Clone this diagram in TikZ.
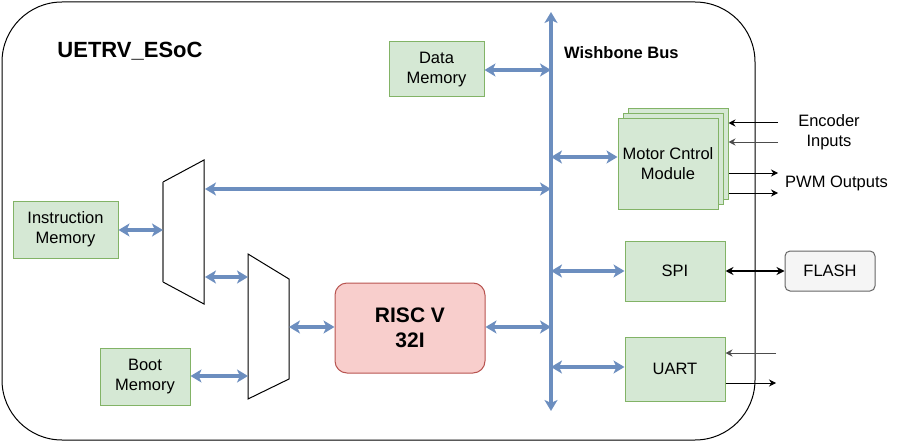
\documentclass[tikz,border=0pt]{standalone}
\usepackage{fontspec}
\setmainfont{Liberation Sans}
\usetikzlibrary{arrows.meta}
\definecolor{gfill}{HTML}{D5E8D4}
\definecolor{gdraw}{HTML}{82B366}
\definecolor{rfill}{HTML}{F8CECC}
\definecolor{rdraw}{HTML}{B85450}
\definecolor{busc}{HTML}{6C8EBF}
\definecolor{ffill}{HTML}{F5F5F5}
\definecolor{fdraw}{HTML}{666666}
\tikzset{
  gbox/.style={draw=gdraw,fill=gfill,line width=1pt,align=center,font=\fontsize{16.5}{20}\selectfont,inner sep=0pt},
  busarrow/.style={draw=busc,line width=3.5pt,{Stealth[length=11pt,width=13pt,inset=3pt]}-{Stealth[length=11pt,width=13pt,inset=3pt]}},
  thinarrow/.style={draw=black,line width=1pt,-{Stealth[length=7pt,width=7pt]}},
  lbl/.style={font=\fontsize{16.5}{20}\selectfont,align=center,inner sep=0pt},
}
\begin{document}
\begin{tikzpicture}[x=1pt,y=-1pt]
\useasboundingbox (0,0) rectangle (907,441);
% outer box
\draw[line width=1pt,rounded corners=60pt] (2,2) rectangle (755,440);
\node[font=\fontsize{22}{26}\selectfont\bfseries,anchor=center] (title) at (130,51) {UETRV\_ESoC};
% bus
\coordinate (bt) at (551,12);
\coordinate (bb) at (551,411);
\draw[busarrow] (bt) -- (bb);
\node[font=\fontsize{16.5}{20}\selectfont\bfseries,anchor=west,inner sep=0pt] (wb) at (564,53) {Wishbone Bus};
% data memory
\node[gbox,minimum width=95pt,minimum height=55pt] (dm) at (436.5,69.5) {Data\\Memory};
\coordinate (dmb) at (551,70);
\draw[busarrow] (dm.east |- dmb) -- (dmb);
% motor control stack
\node[gbox,minimum width=100pt,minimum height=90pt] (mc3) at (678,154) {};
\node[gbox,minimum width=100pt,minimum height=90pt] (mc2) at (673,159) {};
\node[gbox,minimum width=100pt,minimum height=90pt] (mc) at (668,164) {Motor Cntrol\\Module};
\coordinate (mcb) at (551,157);
\draw[busarrow] (mcb) -- (mc.west |- mcb);
\coordinate (e1) at (778,123);
\coordinate (e2) at (778,142);
\draw[thinarrow] (e1) -- (mc3.east |- e1);
\draw[thinarrow,draw=black!70] (e2) -- (mc3.east |- e2);
\node[lbl] (enc) at (829,132) {Encoder\\Inputs};
\coordinate (p1) at (778,173);
\coordinate (p2) at (778,193);
\draw[thinarrow] (mc3.east |- p1) -- (p1);
\draw[thinarrow] (mc3.east |- p2) -- (p2);
\node[lbl,anchor=west] (pwm) at (785,183) {PWM Outputs};
% SPI
\node[gbox,minimum width=100pt,minimum height=60pt] (spi) at (675,271) {SPI};
\node[draw=fdraw,fill=ffill,rounded corners=5pt,line width=1pt,minimum width=90pt,minimum height=40pt,font=\fontsize{16.5}{20}\selectfont] (flash) at (830,271) {FLASH};
\draw[busarrow] (551,271) coordinate (sb) -- (spi.west);
\draw[line width=1.5pt,{Stealth[length=8pt,width=8pt]}-{Stealth[length=8pt,width=8pt]}] (spi.east) -- (flash.west);
% UART
\node[gbox,minimum width=100pt,minimum height=64pt] (uart) at (675,369) {UART};
\coordinate (ub) at (551,367);
\draw[busarrow] (ub) -- (uart.west |- ub);
\coordinate (u1) at (776,353);
\coordinate (u2) at (776,383);
\draw[thinarrow,draw=black!70] (u1) -- (uart.east |- u1);
\draw[thinarrow] (uart.east |- u2) -- (u2);
% RISC V
\node[draw=rdraw,fill=rfill,rounded corners=12pt,line width=1pt,minimum width=150pt,minimum height=90pt,align=center,font=\fontsize{21}{25}\selectfont\bfseries] (risc) at (410,328) {RISC V\\32I};
\coordinate (rb) at (551,327);
\draw[busarrow] (risc.east |- rb) -- (rb);
% mux 1
\coordinate (m1a) at (163,182);
\coordinate (m1b) at (204,160);
\coordinate (m1c) at (204,304);
\coordinate (m1d) at (163,282);
\draw[line width=1pt] (m1a) -- (m1b) -- (m1c) -- (m1d);
\draw[line width=1.5pt,black!55] (m1d) -- (m1a);
% mux 2
\coordinate (m2a) at (248,254);
\coordinate (m2b) at (289,279);
\coordinate (m2c) at (289,379);
\coordinate (m2d) at (248,399);
\draw[line width=1pt] (m2a) -- (m2b) -- (m2c) -- (m2d) -- cycle;
% instruction memory
\node[gbox,minimum width=105pt,minimum height=57pt] (im) at (65.5,229.5) {Instruction\\Memory};
\draw[busarrow] (im.east |- 0,230) -- (163,230);
% boot memory
\node[gbox,minimum width=90pt,minimum height=57pt] (bm) at (145,376.5) {Boot\\Memory};
\draw[busarrow] (bm.east |- 0,376) -- (248,376);
% interconnects
\draw[busarrow] (205,189) -- (551,189);
\draw[busarrow] (205,277) -- (248,277);
\draw[busarrow] (289,327) -- (risc.west |- 0,327);
\end{tikzpicture}
\end{document}
